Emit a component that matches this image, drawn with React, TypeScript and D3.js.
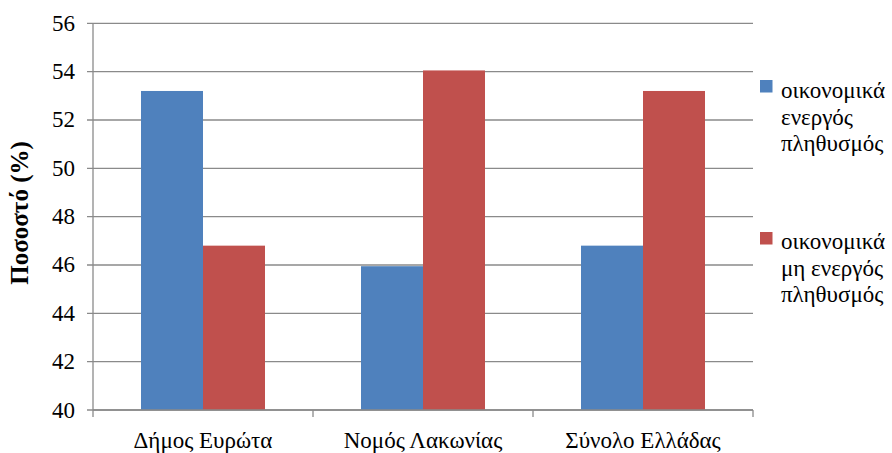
import React from "react";
import * as d3 from "d3";

const categories = ["Δήμος Ευρώτα", "Νομός Λακωνίας", "Σύνολο Ελλάδας"];
const seriesNames = [
  ["οικονομικά", "ενεργός", "πληθυσμός"],
  ["οικονομικά", "μη ενεργός", "πληθυσμός"],
];
const activeValues = [53.2, 45.95, 46.8];
const inactiveValues = [46.8, 54.05, 53.2];
const yTicks = [40, 42, 44, 46, 48, 50, 52, 54, 56];
const colors = ["#4F81BD", "#C0504D"];

const W = 892;
const H = 453;
const left = 93;
const right = 753;
const top = 23.3;
const bottom = 410;
const font = "Liberation Serif";

export default function App() {
  const x = d3.scaleBand<string>().domain(categories).range([left, right]);
  const y = d3.scaleLinear().domain([40, 56]).range([bottom, top]);
  const barW = 62;
  const series = [activeValues, inactiveValues];
  return (
    <svg width={W} height={H} style={{ position: "absolute", left: 0, top: 0, background: "#fff" }}>
      {yTicks.map((t) => (
        <g key={t}>
          <line x1={left - 6} x2={right} y1={y(t)} y2={y(t)} stroke="#8a8a8a" strokeWidth={1.3} />
          <text x={75} y={y(t) + 7.5} textAnchor="end" fontFamily={font} fontSize={23}>
            {t}
          </text>
        </g>
      ))}
      {series.map((vals, si) =>
        categories.map((c, ci) => {
          const cx = (x(c) as number) + x.bandwidth() / 2;
          const bx = cx - barW + si * barW;
          return (
            <rect key={si + "-" + ci} x={bx} y={y(vals[ci])} width={barW} height={bottom - y(vals[ci])} fill={colors[si]} />
          );
        })
      )}
      <line x1={left} x2={left} y1={top} y2={bottom} stroke="#8a8a8a" strokeWidth={1.3} />
      <line x1={left} x2={right} y1={bottom} y2={bottom} stroke="#8a8a8a" strokeWidth={1.3} />
      {[0, 1, 2, 3].map((i) => {
        const xx = left + i * x.step();
        return <line key={i} x1={xx} x2={xx} y1={bottom} y2={bottom + 7} stroke="#8a8a8a" strokeWidth={1.3} />;
      })}
      {categories.map((c) => (
        <text key={c} x={(x(c) as number) + x.bandwidth() / 2} y={448} textAnchor="middle" fontFamily={font} fontSize={23}>
          {c}
        </text>
      ))}
      <text
        transform={`translate(28, 213) rotate(-90)`}
        textAnchor="middle"
        fontFamily={font}
        fontSize={25}
        fontWeight="bold"
      >
        Ποσοστό (%)
      </text>
      {seriesNames.map((lines, si) => {
        const sq = si === 0 ? 80 : 232;
        const b0 = si === 0 ? 98 : 249;
        return (
          <g key={si}>
            <rect x={760} y={sq} width={12.5} height={12.5} fill={colors[si]} />
            {lines.map((l, li) => (
              <text key={li} x={781} y={b0 + li * 26.5} fontFamily={font} fontSize={23}>
                {l}
              </text>
            ))}
          </g>
        );
      })}
    </svg>
  );
}
